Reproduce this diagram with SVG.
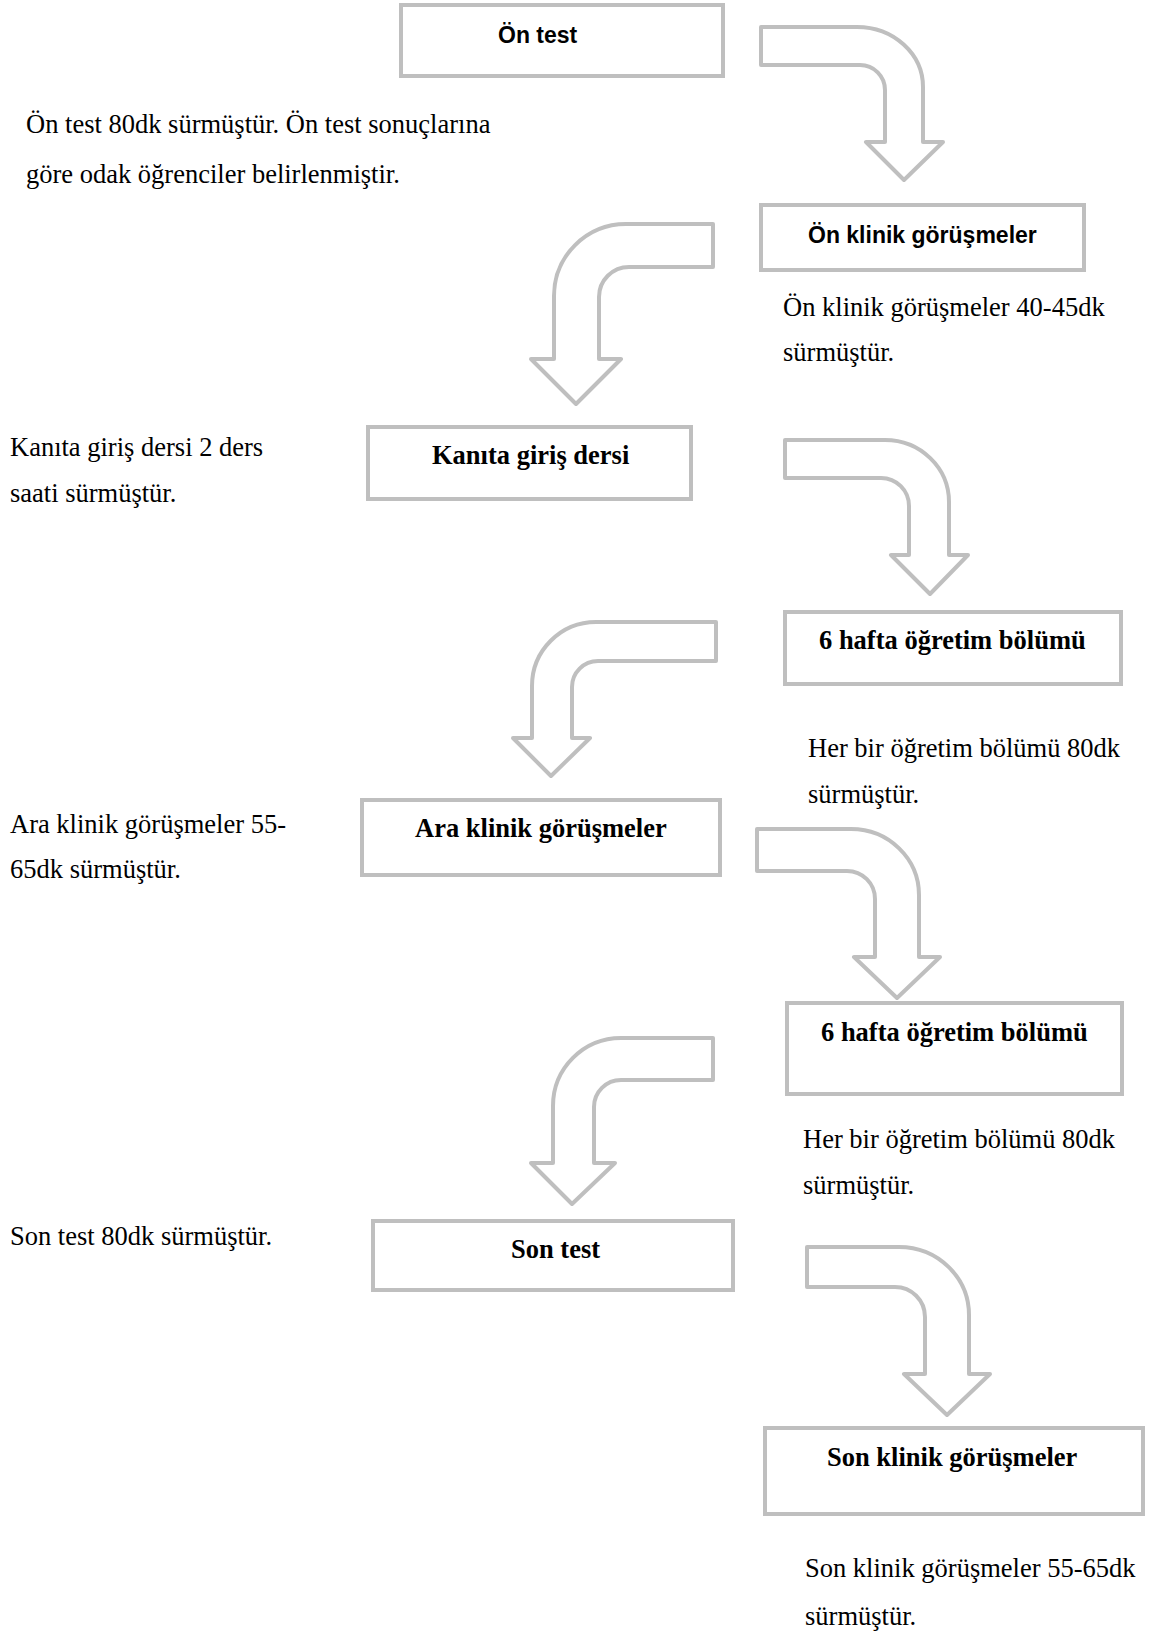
<svg xmlns="http://www.w3.org/2000/svg" width="1164" height="1634" viewBox="0 0 1164 1634">
  <style>
    .box { fill: #ffffff; stroke: #bfbfbf; stroke-width: 4; }
    .arrow { fill: #ffffff; stroke: #bfbfbf; stroke-width: 4; stroke-linejoin: round; }
    .title-sans { font-family: "Liberation Sans", Arial, sans-serif; font-weight: bold; font-size: 23px; fill: #000000; }
    .title-serif { font-family: "Liberation Serif", "Times New Roman", serif; font-weight: bold; font-size: 26.5px; fill: #000000; }
    .note { font-family: "Liberation Serif", "Times New Roman", serif; font-size: 26.5px; fill: #000000; }
  </style>
  <rect width="1164" height="1634" fill="#ffffff"/>

  <!-- bent arrows between the steps -->
  <g id="connectors">
    <path class="arrow" d="M761,27 H857 A66,60 0 0 1 923,87 V142 H943 L904,180 L866,142 H885 V90 A25,25 0 0 0 860,65 H761 Z"/>
    <path class="arrow" d="M713,224 H626 A72,72 0 0 0 554,296 V359 H531 L576,404 L621,359 H599 V297 A30,30 0 0 1 629,267 H713 Z"/>
    <path class="arrow" d="M785,440 H885 A64,62 0 0 1 949,502 V555 H968 L930,594 L891,555 H909 V506 A28,28 0 0 0 881,478 H785 Z"/>
    <path class="arrow" d="M716,622 H596 A64,64 0 0 0 532,686 V738 H513 L551,776 L590,738 H572 V687 A26,26 0 0 1 598,661 H716 Z"/>
    <path class="arrow" d="M757,829 H851 A68,66 0 0 1 919,895 V957 H940 L897,998 L854,957 H875 V899 A28,28 0 0 0 847,871 H757 Z"/>
    <path class="arrow" d="M713,1038 H621 A68,68 0 0 0 553,1106 V1163 H531 L572,1204 L615,1163 H594 V1107 A27,27 0 0 1 621,1080 H713 Z"/>
    <path class="arrow" d="M807,1247 H899 A70,68 0 0 1 969,1315 V1374 H990 L947,1415 L904,1374 H925 V1317 A30,30 0 0 0 895,1287 H807 Z"/>
  </g>

  <g id="on-test">
    <rect class="box" x="401" y="5" width="322" height="71"/>
    <text class="title-sans" x="498" y="43">Ön test</text>
  </g>
  <g id="on-test-note">
    <text class="note" x="26" y="133">Ön test 80dk sürmüştür. Ön test sonuçlarına</text>
    <text class="note" x="26" y="183">göre odak öğrenciler belirlenmiştir.</text>
  </g>

  <g id="on-klinik">
    <rect class="box" x="761" y="205" width="323" height="65"/>
    <text class="title-sans" x="808" y="243">Ön klinik görüşmeler</text>
  </g>
  <g id="on-klinik-note">
    <text class="note" x="783" y="316">Ön klinik görüşmeler 40-45dk</text>
    <text class="note" x="783" y="361">sürmüştür.</text>
  </g>

  <g id="kanita-giris">
    <rect class="box" x="368" y="427" width="323" height="72"/>
    <text class="title-serif" x="432" y="464">Kanıta giriş dersi</text>
  </g>
  <g id="kanita-giris-note">
    <text class="note" x="10" y="456">Kanıta giriş dersi 2 ders</text>
    <text class="note" x="10" y="502">saati sürmüştür.</text>
  </g>

  <g id="ogretim-1">
    <rect class="box" x="785" y="612" width="336" height="72"/>
    <text class="title-serif" x="819" y="649">6 hafta öğretim bölümü</text>
  </g>
  <g id="ogretim-1-note">
    <text class="note" x="808" y="757">Her bir öğretim bölümü 80dk</text>
    <text class="note" x="808" y="803">sürmüştür.</text>
  </g>

  <g id="ara-klinik">
    <rect class="box" x="362" y="800" width="358" height="75"/>
    <text class="title-serif" x="415" y="837">Ara klinik görüşmeler</text>
  </g>
  <g id="ara-klinik-note">
    <text class="note" x="10" y="833">Ara klinik görüşmeler 55-</text>
    <text class="note" x="10" y="878">65dk sürmüştür.</text>
  </g>

  <g id="ogretim-2">
    <rect class="box" x="787" y="1003" width="335" height="91"/>
    <text class="title-serif" x="821" y="1041">6 hafta öğretim bölümü</text>
  </g>
  <g id="ogretim-2-note">
    <text class="note" x="803" y="1148">Her bir öğretim bölümü 80dk</text>
    <text class="note" x="803" y="1194">sürmüştür.</text>
  </g>

  <g id="son-test">
    <rect class="box" x="373" y="1221" width="360" height="69"/>
    <text class="title-serif" x="511" y="1258">Son test</text>
  </g>
  <g id="son-test-note">
    <text class="note" x="10" y="1245">Son test 80dk sürmüştür.</text>
  </g>

  <g id="son-klinik">
    <rect class="box" x="765" y="1428" width="378" height="86"/>
    <text class="title-serif" x="827" y="1466">Son klinik görüşmeler</text>
  </g>
  <g id="son-klinik-note">
    <text class="note" x="805" y="1577">Son klinik görüşmeler 55-65dk</text>
    <text class="note" x="805" y="1625">sürmüştür.</text>
  </g>
</svg>
